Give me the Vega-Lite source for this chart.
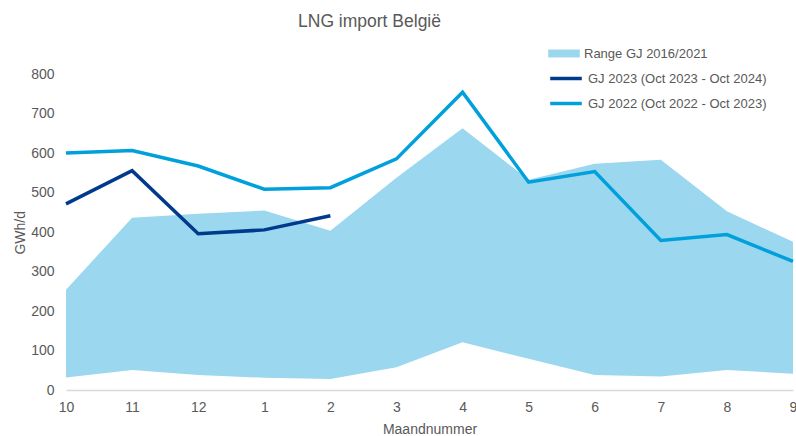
{
  "$schema": "https://vega.github.io/schema/vega-lite/v6.json",
  "autosize": "none",
  "width": 727,
  "height": 315.5,
  "padding": {"left": 66, "top": 74.5, "right": 3, "bottom": 46},
  "background": "white",
  "title": {
    "text": "LNG import België",
    "fontSize": 17.5,
    "fontWeight": "normal",
    "font": "Liberation Sans",
    "color": "#595959",
    "anchor": "middle",
    "frame": "group",
    "dx": -60,
    "offset": 7
  },
  "config": {
    "view": {"stroke": null},
    "axis": {
      "labelFont": "Liberation Sans",
      "titleFont": "Liberation Sans",
      "labelColor": "#595959",
      "titleColor": "#595959",
      "labelFontSize": 14,
      "titleFontSize": 14,
      "titleFontWeight": "normal",
      "grid": false,
      "ticks": false
    },
    "axisY": {
      "domain": false,
      "values": [0, 100, 200, 300, 400, 500, 600, 700, 800],
      "labelOverlap": false,
      "labelPadding": 12,
      "titlePadding": 3
    },
    "legend": {
      "labelFont": "Liberation Sans",
      "labelFontSize": 13,
      "labelColor": "#595959",
      "labelLimit": 400,
      "labelOffset": 4,
      "padding": 0
    }
  },
  "datasets": {
    "range": [
      {"maand": "10", "lo": 32, "hi": 254},
      {"maand": "11", "lo": 51, "hi": 437},
      {"maand": "12", "lo": 38, "hi": 447},
      {"maand": "1", "lo": 31, "hi": 455},
      {"maand": "2", "lo": 28, "hi": 404},
      {"maand": "3", "lo": 58, "hi": 538},
      {"maand": "4", "lo": 121, "hi": 664},
      {"maand": "5", "lo": 79, "hi": 533},
      {"maand": "6", "lo": 38, "hi": 574},
      {"maand": "7", "lo": 34, "hi": 584},
      {"maand": "8", "lo": 51, "hi": 453},
      {"maand": "9", "lo": 41, "hi": 376}
    ],
    "lines": [
      {"maand": "10", "serie": "GJ 2023 (Oct 2023 - Oct 2024)", "waarde": 472},
      {"maand": "11", "serie": "GJ 2023 (Oct 2023 - Oct 2024)", "waarde": 556},
      {"maand": "12", "serie": "GJ 2023 (Oct 2023 - Oct 2024)", "waarde": 396},
      {"maand": "1", "serie": "GJ 2023 (Oct 2023 - Oct 2024)", "waarde": 406},
      {"maand": "2", "serie": "GJ 2023 (Oct 2023 - Oct 2024)", "waarde": 442},
      {"maand": "10", "serie": "GJ 2022 (Oct 2022 - Oct 2023)", "waarde": 601},
      {"maand": "11", "serie": "GJ 2022 (Oct 2022 - Oct 2023)", "waarde": 607},
      {"maand": "12", "serie": "GJ 2022 (Oct 2022 - Oct 2023)", "waarde": 568},
      {"maand": "1", "serie": "GJ 2022 (Oct 2022 - Oct 2023)", "waarde": 509},
      {"maand": "2", "serie": "GJ 2022 (Oct 2022 - Oct 2023)", "waarde": 513},
      {"maand": "3", "serie": "GJ 2022 (Oct 2022 - Oct 2023)", "waarde": 586},
      {"maand": "4", "serie": "GJ 2022 (Oct 2022 - Oct 2023)", "waarde": 755},
      {"maand": "5", "serie": "GJ 2022 (Oct 2022 - Oct 2023)", "waarde": 527},
      {"maand": "6", "serie": "GJ 2022 (Oct 2022 - Oct 2023)", "waarde": 554},
      {"maand": "7", "serie": "GJ 2022 (Oct 2022 - Oct 2023)", "waarde": 379},
      {"maand": "8", "serie": "GJ 2022 (Oct 2022 - Oct 2023)", "waarde": 394},
      {"maand": "9", "serie": "GJ 2022 (Oct 2022 - Oct 2023)", "waarde": 326}
    ]
  },
  "encoding": {
    "x": {
      "field": "maand",
      "type": "ordinal",
      "sort": ["10", "11", "12", "1", "2", "3", "4", "5", "6", "7", "8", "9"],
      "scale": {"type": "point", "padding": 0},
      "title": "Maandnummer",
      "axis": {
        "labelAngle": 0,
        "domainColor": "#D9D9D9",
        "domainWidth": 1.5,
        "labelPadding": 10,
        "titlePadding": 8
      }
    }
  },
  "layer": [
    {
      "data": {"name": "range"},
      "mark": {"type": "area", "opacity": 1},
      "encoding": {
        "y": {
          "field": "lo",
          "type": "quantitative",
          "scale": {"domain": [0, 800]},
          "title": "GWh/d"
        },
        "y2": {"field": "hi"},
        "fill": {
          "datum": "Range GJ 2016/2021",
          "type": "nominal",
          "scale": {"range": ["#9BD7EE"]},
          "legend": {
            "title": null,
            "orient": "none",
            "legendX": 482,
            "legendY": -37,
            "symbolType": "M-1,-0.25H1V0.25H-1Z",
            "symbolSize": 1000,
            "symbolOpacity": 1,
            "symbolStrokeWidth": 0
          }
        }
      }
    },
    {
      "data": {"name": "lines"},
      "mark": {"type": "line", "strokeWidth": 3.5},
      "encoding": {
        "y": {"field": "waarde", "type": "quantitative", "title": "GWh/d"},
        "stroke": {
          "field": "serie",
          "type": "nominal",
          "scale": {
            "domain": ["GJ 2023 (Oct 2023 - Oct 2024)", "GJ 2022 (Oct 2022 - Oct 2023)"],
            "range": ["#003A8C", "#00A0DC"]
          },
          "legend": {
            "title": null,
            "orient": "none",
            "legendX": 482,
            "legendY": -14,
            "symbolType": "stroke",
            "symbolSize": 1000,
            "symbolStrokeWidth": 3.5,
            "rowPadding": -7
          }
        }
      }
    }
  ]
}
